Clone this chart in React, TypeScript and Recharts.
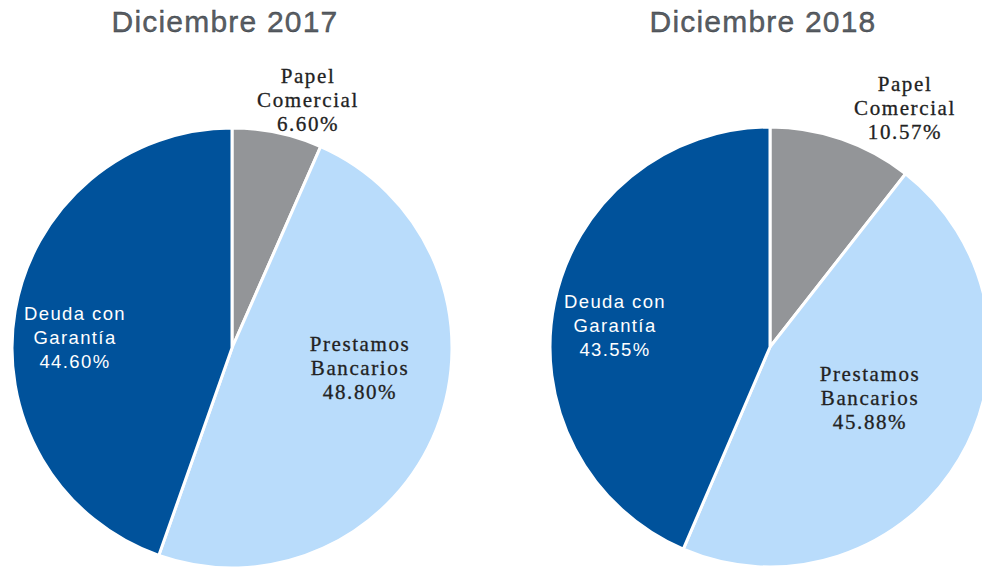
import { PieChart, Pie, Cell } from 'recharts';

const categories = ['Papel Comercial', 'Prestamos Bancarios', 'Deuda con Garantía'];
const values2017 = [6.6, 48.8, 44.6];
const values2018 = [10.57, 45.88, 43.55];
const titles = ['Diciembre 2017', 'Diciembre 2018'];

const colors = ['#939598', '#b9dcfb', '#00529b'];
const labelLines = [['Papel', 'Comercial'], ['Prestamos', 'Bancarios'], ['Deuda con', 'Garantía']];

// label offsets (relative to pie center) per chart, per slice
const labelPos = [
  [{ dx: 76, dy: -248 }, { dx: 128, dy: 20 }, { dx: -157, dy: -10 }],
  [{ dx: 135, dy: -239 }, { dx: 100, dy: 51 }, { dx: -155, dy: -21 }],
];

const toData = (vals: number[]) => categories.map((name, i) => ({ name, value: vals[i] }));

function makeLabel(chart: number) {
  return (props: any) => {
    const { cx, cy, index, value } = props;
    const p = labelPos[chart][index];
    const x = cx + p.dx;
    const y = cy + p.dy;
    const sans = index === 2;
    const lines = [...labelLines[index], `${value.toFixed(2)}%`];
    return (
      <text
        x={x}
        y={y}
        textAnchor="middle"
        fill={sans ? '#ffffff' : '#222222'}
        stroke={sans ? 'none' : '#222222'}
        strokeWidth={sans ? 0 : 0.3}
        fontFamily={sans ? 'Liberation Sans, Arial, sans-serif' : 'Liberation Serif, Times New Roman, serif'}
        fontSize={sans ? 18.5 : 21}
        letterSpacing={sans ? 1.4 : 1.6}
      >
        {lines.map((l, i) => (
          <tspan key={i} x={x} y={y + (i - 1) * 24} dy="0.35em">{l}</tspan>
        ))}
      </text>
    );
  };
}

export default function App() {
  const datasets = [toData(values2017), toData(values2018)];
  const centers = [{ cx: 232, cy: 348 }, { cx: 770, cy: 347 }];
  const titleX = [225, 763];
  return (
    <div style={{ position: 'absolute', left: 0, top: 0, width: 982, height: 567, background: '#fff', overflow: 'hidden' }}>
      {titles.map((t, i) => (
        <div
          key={t}
          style={{
            position: 'absolute', left: titleX[i] - 200, top: 4, width: 400, textAlign: 'center',
            fontFamily: 'Liberation Sans, Arial, sans-serif', fontSize: 30, color: '#595e64',
            letterSpacing: 1.2, lineHeight: '36px', WebkitTextStroke: '0.35px #33373c',
          }}
        >
          {t}
        </div>
      ))}
      <PieChart width={982} height={567} margin={{ top: 0, right: 0, bottom: 0, left: 0 }} style={{ position: 'absolute', left: 0, top: 0 }}>
        {datasets.map((d, c) => (
          <Pie
            key={c}
            data={d}
            dataKey="value"
            cx={centers[c].cx}
            cy={centers[c].cy}
            outerRadius={220}
            startAngle={90}
            endAngle={-270}
            stroke="#ffffff"
            strokeWidth={3}
            label={makeLabel(c)}
            labelLine={false}
            isAnimationActive={false}
          >
            {d.map((_, i) => (
              <Cell key={i} fill={colors[i]} />
            ))}
          </Pie>
        ))}
      </PieChart>
    </div>
  );
}
